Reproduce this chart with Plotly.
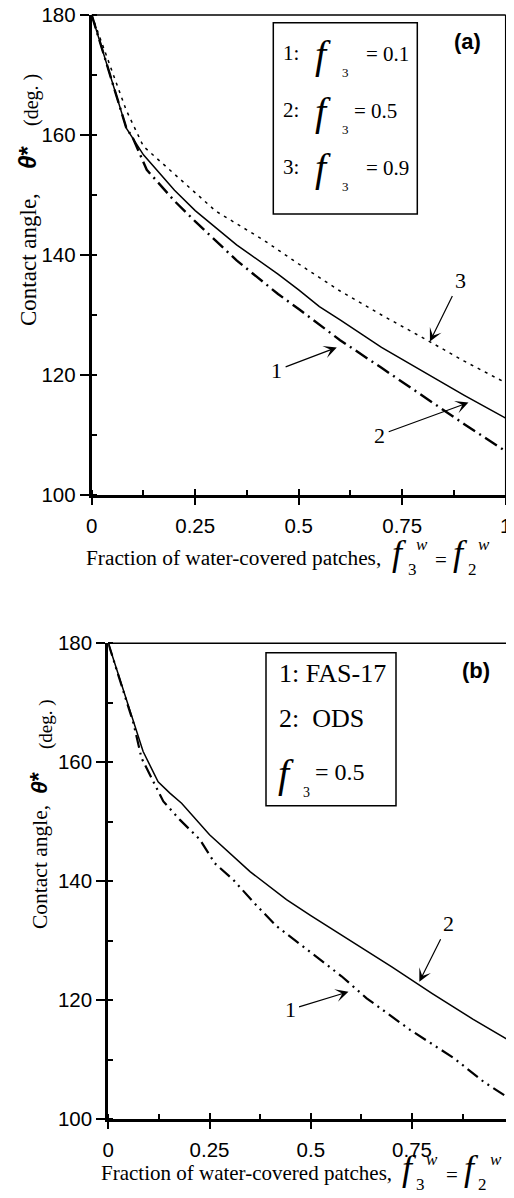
import plotly.graph_objects as go

# page body has an 8px margin: figure is drawn 8px in from the window edge
OFF = 8
W, H = 514 - OFF, 1198 - OFF

# ---------------- data ----------------
X_TICKS = [0, 0.25, 0.5, 0.75, 1]
X_TICKTEXT = ["0", "0.25", "0.5", "0.75", "1"]
Y_TICKS = [100, 120, 140, 160, 180]

# panel (a)
a1_x = [0, 0.083, 0.1, 0.133, 0.2, 0.25, 0.35, 0.45, 0.5, 0.6, 0.7, 0.8, 0.9, 1.0]
a1_y = [180, 161.3, 159.4, 154.2, 149.0, 145.6, 139.1, 133.5, 131.0, 125.8, 121.2, 116.5, 111.8, 107.3]
a2_x = [0, 0.084, 0.125, 0.2, 0.25, 0.35, 0.45, 0.5, 0.55, 0.6, 0.7, 0.8, 0.9, 1.0]
a2_y = [180, 161.1, 156.7, 150.8, 147.4, 141.7, 136.8, 134.2, 131.4, 129.2, 124.6, 120.6, 116.6, 112.8]
a3_x = [0, 0.052, 0.083, 0.125, 0.18, 0.3, 0.415, 0.5, 0.6, 0.7, 0.8, 0.9, 1.0]
a3_y = [180, 170.0, 164.2, 158.1, 154.7, 147.3, 142.5, 138.5, 134.0, 130.0, 126.2, 122.3, 118.7]

# panel (b)
b1_x = [0, 0.062, 0.082, 0.111, 0.136, 0.177, 0.226, 0.263, 0.309, 0.362, 0.416, 0.502, 0.576, 0.638, 0.745, 0.852, 0.926, 1.0]
b1_y = [180, 166.6, 160.7, 156.7, 153.4, 150.3, 147.0, 143.0, 140.2, 136.2, 132.4, 127.9, 124.0, 120.3, 115.0, 110.3, 106.3, 103.0]
b2_x = [0, 0.086, 0.123, 0.152, 0.181, 0.25, 0.35, 0.44, 0.5, 0.6, 0.7, 0.8, 0.9, 1.0]
b2_y = [180, 161.8, 156.7, 154.8, 153.1, 147.8, 141.6, 136.9, 134.2, 129.9, 125.6, 121.1, 116.8, 112.8]

# arrow labels: (label, tip_x, tip_y, text_x, text_y)
a_arrows = [("3", 0.817, 125.6, 0.890, 135.8),
            ("1", 0.592, 124.6, 0.447, 120.8),
            ("2", 0.910, 115.4, 0.696, 110.0)]
b_arrows = [("2", 0.768, 123.1, 0.840, 132.9),
            ("1", 0.593, 121.4, 0.449, 118.4)]

SERIF = "Liberation Serif, Times New Roman, serif"
SANS = "Liberation Sans, Arial, sans-serif"


def px(x):
    return (x - OFF) / W


def py(y):
    return 1 - (y - OFF) / H


fig = go.Figure()

# ---------------- traces ----------------
fig.add_trace(go.Scatter(x=a1_x, y=a1_y, mode="lines", xaxis="x", yaxis="y",
                         line=dict(color="black", width=2.4, dash="14px,5px,2px,5px")))
fig.add_trace(go.Scatter(x=a2_x, y=a2_y, mode="lines", xaxis="x", yaxis="y",
                         line=dict(color="black", width=1.5)))
fig.add_trace(go.Scatter(x=a3_x, y=a3_y, mode="lines", xaxis="x", yaxis="y",
                         line=dict(color="black", width=1.5, dash="3px,5px")))
fig.add_trace(go.Scatter(x=b1_x, y=b1_y, mode="lines", xaxis="x2", yaxis="y2",
                         line=dict(color="black", width=2.2, dash="13px,5px,2px,5px,2px,5px")))
fig.add_trace(go.Scatter(x=b2_x, y=b2_y, mode="lines", xaxis="x2", yaxis="y2",
                         line=dict(color="black", width=1.5)))
# empty helpers so overlay axes (inner half of crossing ticks) get drawn
fig.add_trace(go.Scatter(x=[None], y=[None], xaxis="x3", yaxis="y", hoverinfo="skip"))
fig.add_trace(go.Scatter(x=[None], y=[None], xaxis="x4", yaxis="y2", hoverinfo="skip"))

# ---------------- axes ----------------
def xaxis_main(domain, anchor):
    return dict(domain=domain, anchor=anchor, range=[0, 1], tickmode="array",
                tickvals=X_TICKS, ticktext=X_TICKTEXT, ticks="outside", ticklen=7,
                tickwidth=2, tickcolor="black", showline=True, linewidth=3,
                linecolor="black", showgrid=False, zeroline=False, automargin=False,
                ticklabelstandoff=3, ticklabeloverflow="allow",
                tickfont=dict(family=SANS, size=20.5, color="black"),
                minor=dict(tickmode="linear", tick0=0, dtick=0.125, ticks="inside",
                           ticklen=5, tickwidth=1.5, tickcolor="black", showgrid=False))


def xaxis_over(base, anchor):
    return dict(overlaying=base, anchor=anchor, range=[0, 1], tickmode="array",
                tickvals=X_TICKS, ticks="inside", ticklen=6, tickwidth=2,
                tickcolor="black", showticklabels=False, showline=False,
                showgrid=False, zeroline=False, side="bottom", automargin=False)


def yaxis_main(domain, anchor):
    return dict(domain=domain, anchor=anchor, range=[100, 180], tickmode="array",
                tickvals=Y_TICKS, ticks="outside", ticklen=9, tickwidth=2,
                tickcolor="black", showline=True, linewidth=3, linecolor="black",
                showgrid=False, zeroline=False, automargin=False,
                ticklabeloverflow="allow",
                tickfont=dict(family=SANS, size=20.5, color="black"),
                minor=dict(tickmode="linear", tick0=100, dtick=10, ticks="inside",
                           ticklen=5, tickwidth=1.5, tickcolor="black", showgrid=False))


fig.update_layout(
    xaxis=xaxis_main([px(91.7), px(505.7)], "y"),
    yaxis=yaxis_main([py(495), py(15)], "x"),
    xaxis2=xaxis_main([px(108.3), min(1.0, px(513.3))], "y2"),
    yaxis2=yaxis_main([py(1119), py(643.3)], "x2"),
    xaxis3=xaxis_over("x", "y"),
    xaxis4=xaxis_over("x2", "y2"),
)

# ---------------- frame (top / right thin borders) ----------------
shapes = []
for xr, yr in (("x domain", "y domain"), ("x2 domain", "y2 domain")):
    shapes.append(dict(type="line", xref=xr, yref=yr, x0=0, x1=1, y0=1, y1=1,
                       line=dict(color="black", width=1.5)))
    shapes.append(dict(type="line", xref=xr, yref=yr, x0=1, x1=1, y0=0, y1=1,
                       line=dict(color="black", width=1.5)))
# legend boxes
shapes.append(dict(type="rect", xref="paper", yref="paper",
                   x0=px(273.3), x1=px(417.3), y0=py(214), y1=py(22.7),
                   line=dict(color="black", width=1.5)))
shapes.append(dict(type="rect", xref="paper", yref="paper",
                   x0=px(266), x1=px(396), y0=py(805.7), y1=py(652.7),
                   line=dict(color="black", width=1.5)))

annotations = []


def txt(text, x, y, size, family=SERIF, angle=0, xanchor="center"):
    annotations.append(dict(text=text, x=px(x), y=py(y), xref="paper", yref="paper",
                            xanchor=xanchor, yanchor="middle", showarrow=False,
                            textangle=angle, borderpad=0,
                            font=dict(family=family, size=size, color="black")))


# arrows with labels
for xr, yr, arr in (("x", "y", a_arrows), ("x2", "y2", b_arrows)):
    for lab, tx, ty, lx, ly in arr:
        annotations.append(dict(text=lab, x=tx, y=ty, xref=xr, yref=yr,
                                ax=lx, ay=ly, axref=xr, ayref=yr, showarrow=True,
                                arrowhead=3, arrowsize=1.8, arrowwidth=1.2,
                                arrowcolor="black", standoff=0, startstandoff=2,
                                font=dict(family=SERIF, size=22, color="black")))

# panel letters
txt("<b>(a)</b>", 467.5, 41, 22, SANS)
txt("<b>(b)</b>", 476, 670, 22, SANS)

# legend (a)
rows_a = [(53.3, "1:", "= 0.1", 387.5), (110, "2:", "= 0.5", 375.5), (166.7, "3:", "= 0.9", 387.5)]
for yc, num, val, vx in rows_a:
    txt(num, 291, yc, 21)
    txt("<i>f</i>", 322.5, yc + 1, 40)
    txt("3", 345, yc + 19.5, 13)
    txt(val, vx, yc + 1, 21)

# legend (b)
txt("1: FAS-17", 278, 673, 26, xanchor="left")
txt("2:  ODS", 278, 718, 26, xanchor="left")
txt("<i>f</i>", 286, 773, 40)
txt("3", 306, 792.5, 14)
txt("= 0.5", 340, 772, 24)

# x-axis titles
def xtitle(left, base, fs, fx1, f3, fw1, feq, fx2, f2, fw2):
    txt("Fraction of water-covered patches,", left, base - 0.34 * fs, fs, xanchor="left")
    txt("<i>f</i>", fx1, base - 12, 36)
    txt("3", f3, base + 4, 17)
    txt("<i>w</i>", fw1, base - 21, 17)
    txt("=", feq, base - 5, 21)
    txt("<i>f</i>", fx2, base - 12, 36)
    txt("2", f2, base + 4, 17)
    txt("<i>w</i>", fw2, base - 21, 17)


xtitle(85, 565, 21.3, 399, 412.5, 421.5, 441, 460, 472, 483.5)
xtitle(100, 1180, 21, 409, 420.5, 431.5, 451.5, 471, 482, 495.5)

# y-axis titles
txt("Contact angle,", 28, 260, 23, angle=-90)
txt("<b><i>θ</i>*</b>", 27, 158, 24, SANS, angle=-90)
txt("(deg. )", 32, 100, 20, angle=-90)

txt("Contact angle,", 40, 867, 21.5, angle=-90)
txt("<b><i>θ</i>*</b>", 39, 783, 23, SANS, angle=-90)
txt("(deg. )", 46, 724, 19, angle=-90)

fig.update_layout(
    width=W, height=H, autosize=False,
    margin=dict(l=0, r=0, t=0, b=0, pad=0, autoexpand=False),
    paper_bgcolor="white", plot_bgcolor="white",
    showlegend=False,
    shapes=shapes, annotations=annotations,
)

fig.write_html("out.html", config={"displayModeBar": False})
